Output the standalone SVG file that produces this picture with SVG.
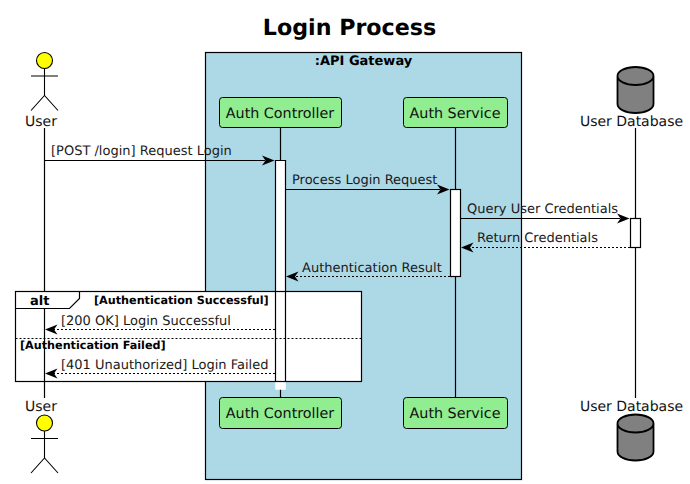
<svg xmlns="http://www.w3.org/2000/svg" width="690" height="484" viewBox="0 0 690 484">
<style>
text{font-family:"DejaVu Sans",sans-serif;fill:#000;text-rendering:geometricPrecision}
.m{font-size:13px;fill:#1a1a1a}
.n{font-size:14px;fill:#111;text-anchor:middle}
.p{font-size:14.3px;fill:#111;text-anchor:middle}
.b{font-size:11.2px;font-weight:bold}
.l{fill:none;stroke:#000;stroke-width:1.2}
.d{fill:none;stroke:#000;stroke-width:1;stroke-dasharray:2 2}
.act{fill:#fff;stroke:#000;stroke-width:1.2}
.part{fill:#90ee90;stroke:#000;stroke-width:1}
.head{fill:#000;stroke:none}
.body{fill:none;stroke:#000;stroke-width:1.1}
.db{fill:#808080;stroke:#000;stroke-width:1.8}
</style>
<defs>
<g id="actor"><circle cx="0" cy="8" r="8" fill="#ff0" stroke="#000" stroke-width="1.1"/><path class="body" d="M0 16V43M-13.500 23.500H13.500M-13.500 58L0 43L13.500 58"/></g>
<g id="cyl"><path class="db" d="M-18 9V37C-18 42 -10 46 0 46C10 46 18 42 18 37V9C18 4 10 0 0 0C-10 0 -18 4 -18 9C-18 14 -10 18 0 18C10 18 18 14 18 9"/></g>
<path id="ar" class="head" d="M0 0L-12.500 -5L-9 0L-12.500 5Z"/>
<path id="al" class="head" d="M0 0L12.500 -5L9 0L12.500 5Z"/>
</defs>
<text x="349.500" y="35" font-size="22.200" font-weight="bold" text-anchor="middle">Login Process</text>
<g id="api-gateway"><rect x="205.500" y="52.500" width="316" height="427" fill="#add8e6" stroke="#000" stroke-width="1.200"/><text x="363.500" y="64.500" font-size="13" font-weight="bold" text-anchor="middle">:API Gateway</text></g>
<g id="lifelines">
<path class="l" d="M44.500 128V398M280.500 128V398M455.500 128V398M635.500 128V398"/>
</g>
<g id="activation-controller"><rect x="275.500" y="160.500" width="10" height="229" fill="#fff"/><path class="l" d="M275.500 291.500V160.500H285.500V291.500"/></g>
<g id="activation-service"><rect class="act" x="450.500" y="189.500" width="10" height="87"/></g>
<g id="activation-db"><rect class="act" x="630.500" y="218.500" width="10" height="29"/></g>
<g id="user-top"><use href="#actor" x="44.500" y="52.500"/><text class="n" x="41" y="126">User</text></g>
<g id="controller-top"><rect class="part" x="219.500" y="97.500" width="122" height="30" rx="3"/><text class="p" x="280" y="118">Auth Controller</text></g>
<g id="service-top"><rect class="part" x="403.500" y="97.500" width="104" height="30" rx="3"/><text class="p" x="455" y="118">Auth Service</text></g>
<g id="db-top"><use href="#cyl" x="635.500" y="67"/><text class="n" x="631.500" y="126">User Database</text></g>
<g id="alt-frame">
<rect x="15.500" y="291.500" width="346" height="90" fill="#fff"/>
<path class="l" d="M44.500 308.500V381"/>
<rect x="275.500" y="291.500" width="10" height="98" fill="#fff"/>
<path class="l" d="M275.500 291.500V381.500M285.500 291.500V381.500"/>
<rect x="15.500" y="291.500" width="346" height="90" fill="none" stroke="#000" stroke-width="1.200"/>
<path d="M15.500 308.500H69.500L79.500 298.500V291.500" fill="none" stroke="#000" stroke-width="1.200"/>
<text x="30" y="305" font-size="13" font-weight="bold">alt</text>
<text x="94" y="304" class="b">[Authentication Successful]</text>
<path class="d" d="M15.500 338.500H361.500"/>
<text x="20" y="349" class="b">[Authentication Failed]</text>
</g>
<g id="connectors">
<path class="l" d="M44.500 160.500H265"/><use href="#ar" x="274.500" y="160.500"/>
<path class="l" d="M285.500 189.500H440"/><use href="#ar" x="449.500" y="189.500"/>
<path class="l" d="M460.500 218.500H620"/><use href="#ar" x="629.500" y="218.500"/>
<path class="d" d="M630 247.500H468"/><use href="#al" x="461" y="247.500"/>
<path class="d" d="M450 276.500H293"/><use href="#al" x="286" y="276.500"/>
<path class="d" d="M275 329.500H52"/><use href="#al" x="45" y="329.500"/>
<path class="d" d="M275 373.500H52"/><use href="#al" x="45" y="373.500"/>
</g>
<g id="labels">
<text class="m" x="51" y="155">[POST /login] Request Login</text>
<text class="m" x="292" y="184">Process Login Request</text>
<text class="m" x="467" y="213">Query User Credentials</text>
<text class="m" x="477" y="242">Return Credentials</text>
<text class="m" x="302" y="272">Authentication Result</text>
<text class="m" x="61" y="325">[200 OK] Login Successful</text>
<text class="m" x="61" y="369">[401 Unauthorized] Login Failed</text>
</g>
<g id="user-bottom"><text class="n" x="41" y="411">User</text><use href="#actor" x="44.500" y="415"/></g>
<g id="controller-bottom"><rect class="part" x="219.500" y="397.500" width="122" height="31" rx="3"/><text class="p" x="280" y="418">Auth Controller</text></g>
<g id="service-bottom"><rect class="part" x="403.500" y="397.500" width="104" height="31" rx="3"/><text class="p" x="455" y="418">Auth Service</text></g>
<g id="db-bottom"><text class="n" x="631.500" y="411">User Database</text><use href="#cyl" x="635.500" y="414.500"/></g>
</svg>
